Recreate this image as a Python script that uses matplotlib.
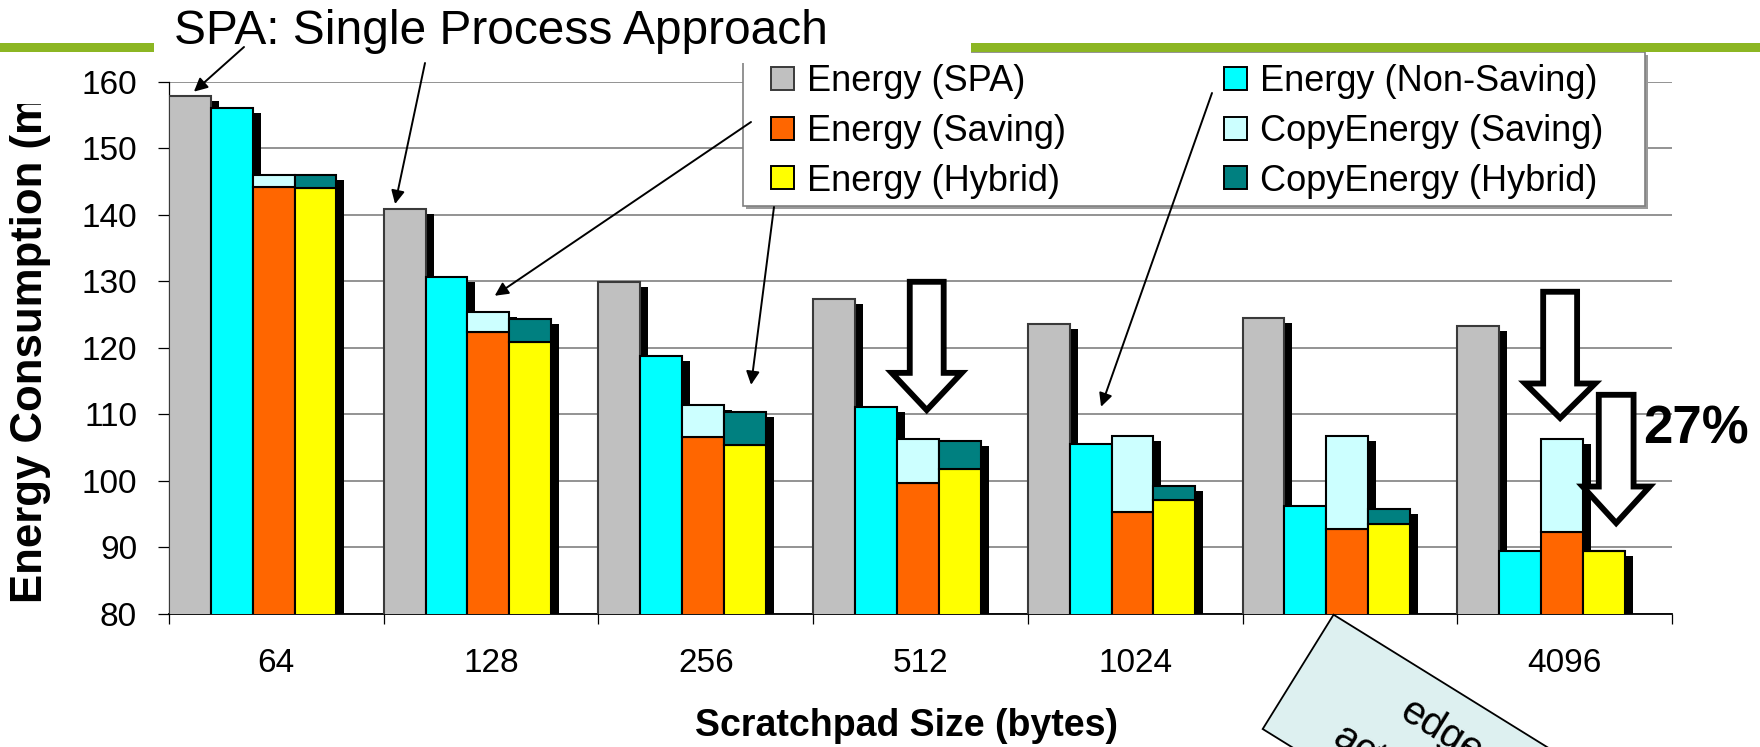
import numpy as np
import matplotlib
matplotlib.use("Agg")
import matplotlib.pyplot as plt
from matplotlib.patches import Patch, Rectangle, Polygon, ConnectionPatch
from matplotlib import transforms as mtransforms

plt.rcParams['font.family'] = ['Liberation Sans', 'DejaVu Sans']

# ---- data -------------------------------------------------------------
categories = ['64', '128', '256', '512', '1024', '2048', '4096']
energy_spa = [157.8, 140.9, 129.9, 127.3, 123.6, 124.4, 123.3]
energy_non_saving = [156.0, 130.6, 118.8, 111.0, 105.5, 96.1, 89.4]
energy_saving = [144.1, 122.4, 106.6, 99.7, 95.3, 92.7, 92.3]
copy_energy_saving = [1.9, 3.0, 4.8, 6.6, 11.4, 14.0, 14.0]
energy_hybrid = [144.0, 120.9, 105.4, 101.8, 97.1, 93.4, 89.4]
copy_energy_hybrid = [2.0, 3.4, 4.9, 4.1, 2.1, 2.3, 0.0]

C_SPA = '#C0C0C0'
C_NON = '#00FFFF'
C_SAV = '#FF6600'
C_CSAV = '#CCFFFF'
C_HYB = '#FFFF00'
C_CHYB = '#008080'

W, H = 1760, 747


def fx(px):
    return px / W


def fy(py):
    return 1 - py / H


fig = plt.figure(figsize=(W / 100, H / 100), dpi=100)
fig.patch.set_facecolor('white')
ax = fig.add_axes([fx(169), fy(613.5), (1672 - 169) / W, (613.5 - 81.7) / H])

ax.set_xlim(0, len(categories))
ax.set_ylim(80, 160)
ax.set_yticks(np.arange(80, 161, 10))
ax.yaxis.grid(True, color='#808080', lw=1.2)
ax.set_axisbelow(True)
for s in ('top', 'right'):
    ax.spines[s].set_visible(False)
ax.spines['left'].set_linewidth(0.9)
ax.spines['bottom'].set_linewidth(1.3)
ax.tick_params(axis='y', length=8, width=0.9, pad=15, labelsize=24)
ax.set_xticks(np.arange(len(categories) + 1))
ax.set_xticklabels([])
ax.tick_params(axis='x', which='major', length=7.5, width=0.9)
ax.set_xticks(np.arange(len(categories)) + 0.5, minor=True)
ax.set_xticklabels(categories, minor=True)
ax.tick_params(axis='x', which='minor', length=0, pad=25, labelsize=24)

# ---- bars with a hard drop shadow ------------------------------------
idx = np.arange(len(categories))
bw = 0.195
shadow = mtransforms.offset_copy(ax.transData, fig=fig, x=8, y=-5, units='dots')

series = [
    [(energy_spa, C_SPA, '#3a3a3a')],
    [(energy_non_saving, C_NON, 'black')],
    [(energy_saving, C_SAV, 'black'), (copy_energy_saving, C_CSAV, 'black')],
    [(energy_hybrid, C_HYB, 'black'), (copy_energy_hybrid, C_CHYB, 'black')],
]
for j, parts in enumerate(series):
    x = idx + j * bw
    total = np.sum([np.asarray(p[0]) for p in parts], axis=0)
    ax.bar(x, total, width=bw, align='edge', color='black', lw=0,
           transform=shadow, zorder=2 + 2 * j)
    bottom = np.zeros(len(categories))
    for vals, fc, ec in parts:
        ax.bar(x, vals, bottom=bottom, width=bw, align='edge', facecolor=fc,
               edgecolor=ec, lw=1.5, zorder=3 + 2 * j)
        bottom = bottom + np.asarray(vals)


# ---- hollow block arrows ---------------------------------------------
def block_arrow(cx, top, head, tip, sw, hw):
    verts = [(cx - sw, top), (cx + sw, top), (cx + sw, head), (cx + hw, head),
             (cx, tip), (cx - hw, head), (cx - sw, head)]
    ax.add_patch(Polygon(verts, closed=True, facecolor='white', edgecolor='black',
                         lw=4.2, joinstyle='miter', zorder=30, clip_on=False))


block_arrow(3.529, 129.9, 116.2, 110.6, 0.079, 0.163)
block_arrow(6.479, 128.4, 114.6, 109.4, 0.079, 0.163)
block_arrow(6.740, 112.9, 99.1, 93.6, 0.081, 0.156)

# ---- legend with its own frame ----------------------------------------
fx0, fy0, fx1, fy1 = 742.6, 51.7, 1644.5, 205.7
fig.add_artist(Rectangle((fx(fx0 + 3), fy(fy1 + 3)), (fx1 - fx0) / W, (fy1 - fy0) / H,
                         transform=fig.transFigure, facecolor='#9a9a9a',
                         edgecolor='none', zorder=4.4))
fig.add_artist(Rectangle((fx(fx0), fy(fy1)), (fx1 - fx0) / W, (fy1 - fy0) / H,
                         transform=fig.transFigure, facecolor='white',
                         edgecolor='#808080', lw=1.2, zorder=4.5))

handles = [Patch(facecolor=C_SPA, edgecolor='#3a3a3a', lw=1.4),
           Patch(facecolor=C_SAV, edgecolor='black', lw=1.4),
           Patch(facecolor=C_HYB, edgecolor='black', lw=1.4),
           Patch(facecolor=C_NON, edgecolor='black', lw=1.4),
           Patch(facecolor=C_CSAV, edgecolor='black', lw=1.4),
           Patch(facecolor=C_CHYB, edgecolor='black', lw=1.4)]
labels = ['Energy (SPA)', 'Energy (Saving)', 'Energy (Hybrid)',
          'Energy (Non-Saving)', 'CopyEnergy (Saving)', 'CopyEnergy (Hybrid)']
fig.legend(handles, labels, loc='upper left', bbox_to_anchor=(fx(771), fy(64)),
           ncol=2, frameon=False, fontsize=26, handlelength=0.65,
           handleheight=0.61, handletextpad=0.36, columnspacing=4.35,
           labelspacing=0.41, borderpad=0, borderaxespad=0)

# ---- slide decoration and title -------------------------------------
fig.add_artist(Rectangle((0, fy(52)), 1, 9 / H, transform=fig.transFigure,
                         facecolor='#8cb623', edgecolor='none', zorder=5.5))
fig.add_artist(Rectangle((fx(154), fy(63)), (971 - 154) / W, 63 / H,
                         transform=fig.transFigure, facecolor='white',
                         edgecolor='none', zorder=6))
fig.text(fx(174), fy(43.5), 'SPA: Single Process Approach', fontsize=34.5,
         ha='left', va='baseline', zorder=7)

# ---- callout arrows ---------------------------------------------------
callouts = [
    ((244, 47), (0.116, 158.5)),
    ((425, 63), (1.053, 141.6)),
    ((751, 122), (1.517, 127.8)),
    ((774, 207), (2.711, 114.4)),
    ((1212, 93), (4.341, 111.1)),
]
for (sx, sy), tip in callouts:
    con = ConnectionPatch(xyA=(fx(sx), fy(sy)), coordsA='figure fraction',
                          xyB=tip, coordsB='data', axesB=ax,
                          arrowstyle='-|>', mutation_scale=20, lw=1.4,
                          color='black', shrinkA=0, shrinkB=0, zorder=8)
    fig.add_artist(con)

# ---- axis titles ------------------------------------------------------
fig.text(fx(906.5), fy(736), 'Scratchpad Size (bytes)', fontsize=27,
         fontweight='bold', ha='center', va='baseline')
ylab = fig.text(fx(31), fy(603), 'Energy Consumption (mJ)', fontsize=31.5,
                fontweight='bold', rotation=90, ha='center', va='bottom')
ylab.set_clip_box(mtransforms.TransformedBbox(
    mtransforms.Bbox([[0, 0], [1, fy(104)]]), fig.transFigure))
ylab.set_clip_on(True)

fig.text(fx(1643), fy(443), '27%', fontsize=38, fontweight='bold',
         ha='left', va='baseline', zorder=9)

# ---- tilted note box at the bottom -------------------------------------
pix = mtransforms.IdentityTransform()
fig.add_artist(Rectangle((1262.7, H - 729), 520, 134.5, angle=-31.8,
                         rotation_point='xy', transform=pix,
                         facecolor='#DDF0F0', edgecolor='black', lw=1.3,
                         zorder=10))
fig.text(1397, H - 717, 'edge', transform=pix, fontsize=29, rotation=-31.8,
         rotation_mode='anchor', ha='left', va='baseline', zorder=11)
fig.text(1330, H - 743, 'actual', transform=pix, fontsize=29, rotation=-31.8,
         rotation_mode='anchor', ha='left', va='baseline', zorder=11)

fig.savefig('out.png', dpi=100, facecolor='white')
